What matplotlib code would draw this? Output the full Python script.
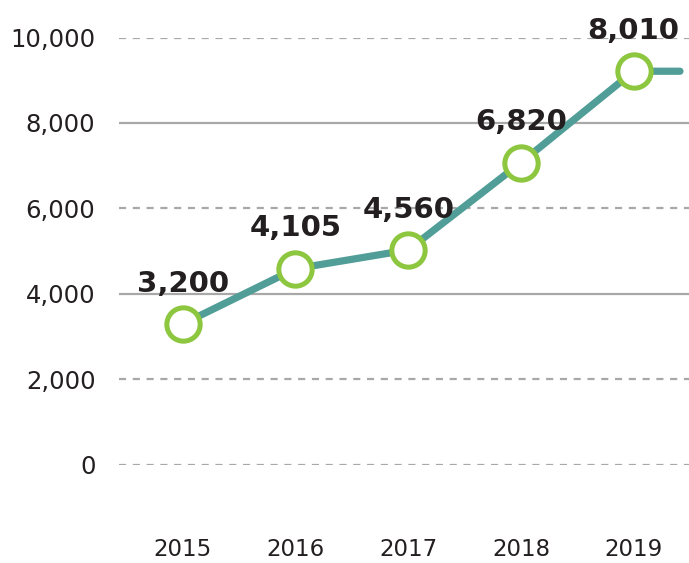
import matplotlib

matplotlib.use("Agg")
import matplotlib.pyplot as plt
import numpy as np

# values as drawn on the chart (marker heights) and the printed labels
years = ["2015", "2016", "2017", "2018", "2019"]
values = [3290, 4585, 5025, 7070, 9210]
value_labels = ["3,200", "4,105", "4,560", "6,820", "8,010"]
y_ticks = [0, 2000, 4000, 6000, 8000, 10000]
y_tick_labels = ["0", "2,000", "4,000", "6,000", "8,000", "10,000"]
grid_solid = [False, False, True, False, True, False]
tail_extent = 0.41  # line runs on past the last year

TEAL = "#509e97"
GREEN = "#8dc63f"
INK = "#231f20"
GRID = "#a8a8a8"

W, H = 689, 563
fig = plt.figure(figsize=(W / 100, H / 100), dpi=100)
ax = fig.add_axes([119 / W, (H - 464.5) / H, 1 - 119 / W, 427 / H])
ax.set_xlim(-0.565, 4.49)
ax.set_ylim(0, 10000)
for s in ax.spines.values():
    s.set_visible(False)

for yv, solid in zip(y_ticks, grid_solid):
    ax.axhline(yv, color=GRID, lw=1.6, zorder=1,
               ls="-" if solid else (0, (3.2, 3.0)))

x = np.arange(len(years))
xl = np.append(x, x[-1] + tail_extent)
yl = np.append(values, values[-1])
ax.plot(xl, yl, color=TEAL, lw=5.2, solid_capstyle="round",
        solid_joinstyle="round", zorder=2, clip_on=False)
ax.plot(x, values, ls="none", marker="o", markersize=24,
        markerfacecolor="white", markeredgecolor=GREEN,
        markeredgewidth=3.6, zorder=3, clip_on=False)

for xi, v, lab in zip(x, values, value_labels):
    ax.annotate(lab, (xi, v), xytext=(0, 19), textcoords="offset points",
                ha="center", va="bottom", fontsize=21, fontweight="bold",
                color=INK, zorder=4, annotation_clip=False)

ax.set_yticks(y_ticks, y_tick_labels, fontsize=17.5, color=INK)
ax.set_xticks(x, years, fontsize=16.5, color=INK)
ax.tick_params(axis="y", length=0, pad=17)
ax.tick_params(axis="x", length=0, pad=53)

fig.savefig("out.png", dpi=100)
